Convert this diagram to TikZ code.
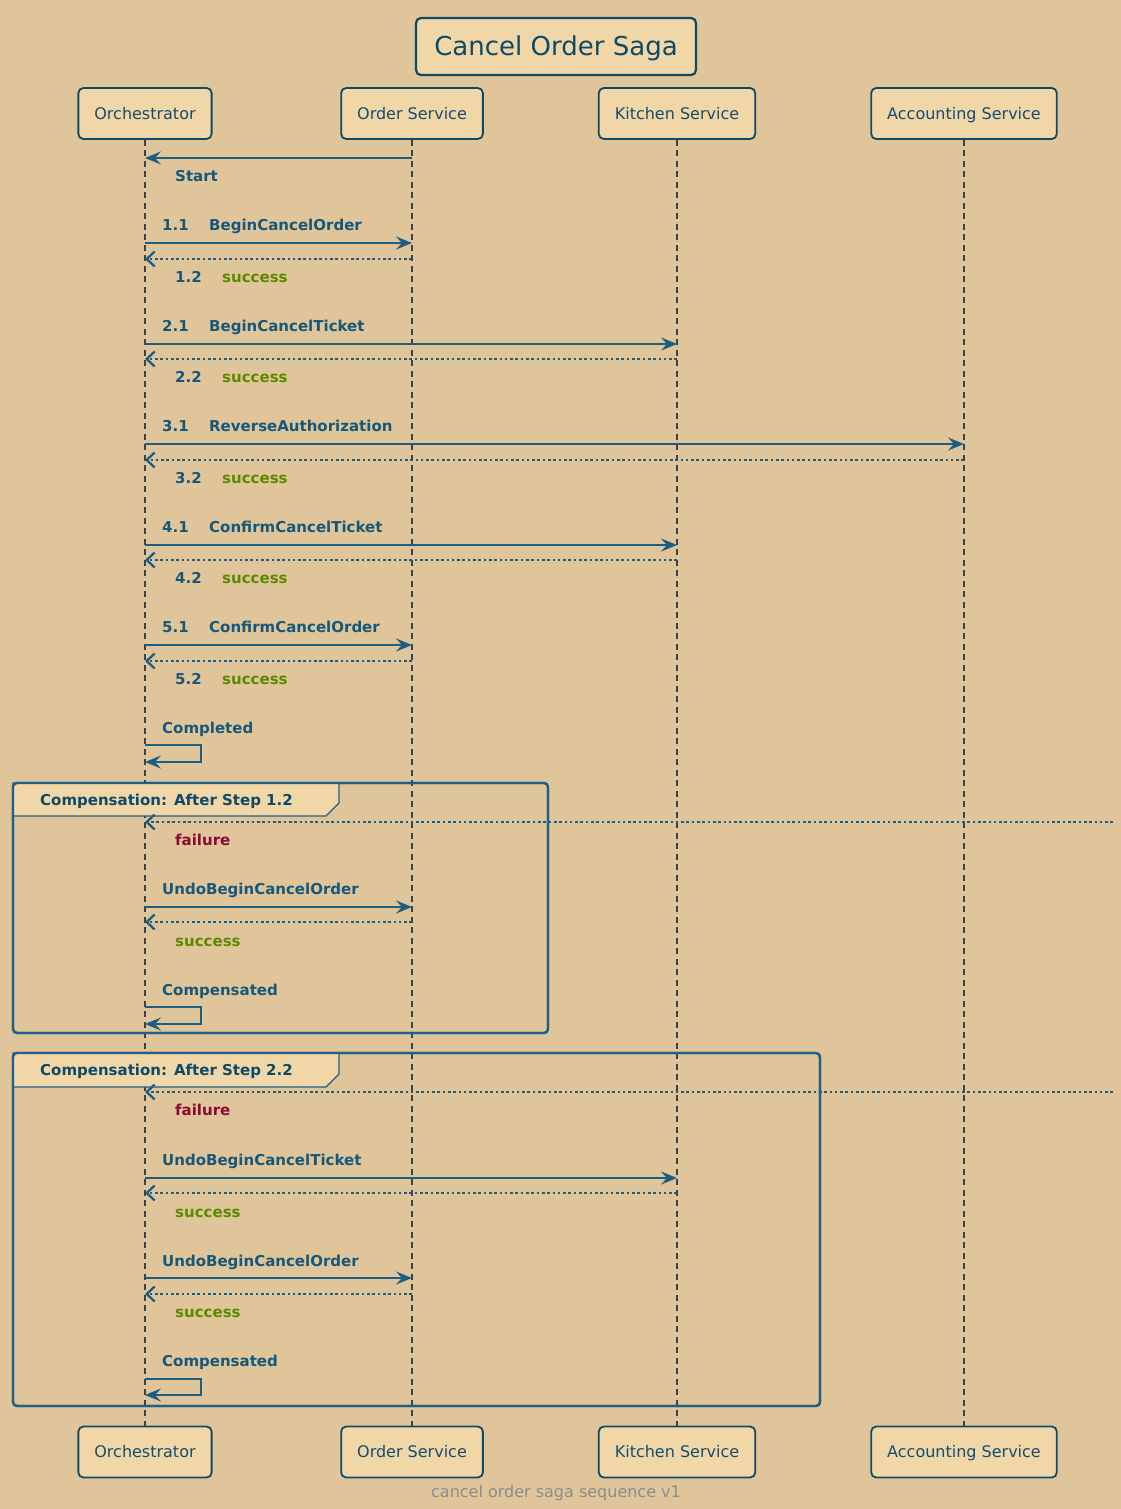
\documentclass[tikz,border=0pt]{standalone}
\usepackage{fontspec}
\setmainfont{DejaVu Sans}
\usetikzlibrary{arrows.meta}
\definecolor{bg}{HTML}{E0C59A}
\definecolor{boxfill}{HTML}{F1D6A8}
\definecolor{boxdraw}{HTML}{0D4A68}
\definecolor{ptxt}{HTML}{154E6E}
\definecolor{lbl}{HTML}{17587A}
\definecolor{arr}{HTML}{1B5E82}
\definecolor{life}{HTML}{38434D}
\definecolor{okgreen}{HTML}{5B8A00}
\definecolor{failred}{HTML}{8A0A36}
\definecolor{framec}{HTML}{1E6087}
\definecolor{foot}{HTML}{8C8C8C}
\tikzset{
  participant/.style={draw=boxdraw, fill=boxfill, rounded corners=5pt, line width=1.8pt,
    minimum height=51pt, inner xsep=16pt, text height=11.7pt, text depth=0pt,
    text=ptxt, font=\fontsize{16}{19}\selectfont},
  titlebox/.style={draw=boxdraw, fill=boxfill, rounded corners=5pt, line width=2.2pt,
    minimum height=57pt, minimum width=280pt, text height=19pt, text depth=0pt,
    text=boxdraw, font=\fontsize{26}{31}\selectfont},
  lifeline/.style={draw=life, line width=2.4pt, dash pattern=on 6pt off 4.5pt},
  call/.style={draw=arr, line width=2.3pt, -{Stealth[length=16pt,width=13pt,inset=6pt]}},
  reply/.style={draw=arr, line width=2.3pt, dash pattern=on 2.6pt off 2.7pt,
    -{Straight Barb[length=8pt,width=15pt]}},
  msglabel/.style={anchor=base west, inner sep=0pt, text=lbl, font=\fontsize{15}{18}\selectfont\bfseries},
  grouplabel/.style={anchor=base west, inner sep=0pt, text=boxdraw, font=\fontsize{15}{18}\selectfont\bfseries},
  frameline/.style={draw=framec, line width=2.3pt, rounded corners=4pt},
  tab/.style={draw=framec, line width=1.1pt, fill=boxfill},
}
\newcommand{\numlbl}[2]{\makebox[47pt][l]{#1}#2}
\newcommand{\okt}{\textcolor{okgreen}{success}}
\begin{document}
\begin{tikzpicture}[x=1pt,y=-1pt]
\fill[bg] (0,0) rectangle (1121,1509);
\useasboundingbox (0,0) rectangle (1121,1509);

% title
\node[titlebox] (title) at (556,46.5) {Cancel Order Saga};

% participants top
\node[participant] (oT) at (145,113.5) {Orchestrator};
\node[participant] (sT) at (412,113.5) {Order Service};
\node[participant] (kT) at (677,113.5) {Kitchen Service};
\node[participant] (aT) at (964,113.5) {Accounting Service};
% participants bottom
\node[participant] (oB) at (145,1452) {Orchestrator};
\node[participant] (sB) at (412,1452) {Order Service};
\node[participant] (kB) at (677,1452) {Kitchen Service};
\node[participant] (aB) at (964,1452) {Accounting Service};

% lifelines
\draw[lifeline] (oT.south) -- (oB.north);
\draw[lifeline] (sT.south) -- (sB.north);
\draw[lifeline] (kT.south) -- (kB.north);
\draw[lifeline] (aT.south) -- (aB.north);

% group frames
\draw[frameline] (13,783) rectangle (548,1033);
\draw[tab] (13,783) -- (339,783) -- (339,803) -- (326,816) -- (13,816) -- cycle;
\draw[frameline] (13,783) rectangle (548,1033);
\node[grouplabel] (g1) at (40,805) {Compensation: After Step 1.2};

\draw[frameline] (13,1053) rectangle (820,1406);
\draw[tab] (13,1053) -- (339,1053) -- (339,1074) -- (326,1087) -- (13,1087) -- cycle;
\draw[frameline] (13,1053) rectangle (820,1406);
\node[grouplabel] (g2) at (40,1075) {Compensation: After Step 2.2};

% messages
\draw[call] (sT.south |- 0,158) -- (oT.south |- 0,158);
\node[msglabel] (mStart) at (175,181) {Start};

\node[msglabel] (m11) at (162,230) {\numlbl{1.1}{BeginCancelOrder}};
\draw[call] (oT.south |- 0,243) -- (sT.south |- 0,243);
\draw[reply] (sT.south |- 0,259) -- (oT.south |- 0,259);
\node[msglabel] (m12) at (175,282) {\numlbl{1.2}{\okt}};

\node[msglabel] (m21) at (162,331) {\numlbl{2.1}{BeginCancelTicket}};
\draw[call] (oT.south |- 0,344) -- (kT.south |- 0,344);
\draw[reply] (kT.south |- 0,359) -- (oT.south |- 0,359);
\node[msglabel] (m22) at (175,382) {\numlbl{2.2}{\okt}};

\node[msglabel] (m31) at (162,431) {\numlbl{3.1}{ReverseAuthorization}};
\draw[call] (oT.south |- 0,444) -- (aT.south |- 0,444);
\draw[reply] (aT.south |- 0,460) -- (oT.south |- 0,460);
\node[msglabel] (m32) at (175,483) {\numlbl{3.2}{\okt}};

\node[msglabel] (m41) at (162,532) {\numlbl{4.1}{ConfirmCancelTicket}};
\draw[call] (oT.south |- 0,545) -- (kT.south |- 0,545);
\draw[reply] (kT.south |- 0,560) -- (oT.south |- 0,560);
\node[msglabel] (m42) at (175,583) {\numlbl{4.2}{\okt}};

\node[msglabel] (m51) at (162,632) {\numlbl{5.1}{ConfirmCancelOrder}};
\draw[call] (oT.south |- 0,645) -- (sT.south |- 0,645);
\draw[reply] (sT.south |- 0,661) -- (oT.south |- 0,661);
\node[msglabel] (m52) at (175,684) {\numlbl{5.2}{\okt}};

\node[msglabel] (mComp) at (162,733) {Completed};
\draw[call] (oT.south |- 0,745) -- ++(56,0) -- ++(0,17) -- (oT.south |- 0,762);

% group 1 messages
\coordinate (edge1) at (1113,822);
\draw[reply] (edge1) -- (oT.south |- edge1);
\node[msglabel, text=failred] (f1) at (175,845) {failure};
\node[msglabel] (u1) at (162,894) {UndoBeginCancelOrder};
\draw[call] (oT.south |- 0,907) -- (sT.south |- 0,907);
\draw[reply] (sT.south |- 0,922) -- (oT.south |- 0,922);
\node[msglabel] (s1) at (175,946) {\okt};
\node[msglabel] (c1) at (162,995) {Compensated};
\draw[call] (oT.south |- 0,1007) -- ++(56,0) -- ++(0,17) -- (oT.south |- 0,1024);

% group 2 messages
\coordinate (edge2) at (1113,1092);
\draw[reply] (edge2) -- (oT.south |- edge2);
\node[msglabel, text=failred] (f2) at (175,1115) {failure};
\node[msglabel] (u2) at (162,1165) {UndoBeginCancelTicket};
\draw[call] (oT.south |- 0,1178) -- (kT.south |- 0,1178);
\draw[reply] (kT.south |- 0,1193) -- (oT.south |- 0,1193);
\node[msglabel] (s2) at (175,1217) {\okt};
\node[msglabel] (u3) at (162,1266) {UndoBeginCancelOrder};
\draw[call] (oT.south |- 0,1278) -- (sT.south |- 0,1278);
\draw[reply] (sT.south |- 0,1294) -- (oT.south |- 0,1294);
\node[msglabel] (s3) at (175,1317) {\okt};
\node[msglabel] (c2) at (162,1366) {Compensated};
\draw[call] (oT.south |- 0,1379) -- ++(56,0) -- ++(0,16) -- (oT.south |- 0,1395);

% footer
\node[text=foot, font=\fontsize{16}{19}\selectfont, inner sep=0pt] (footer) at (556,1493) {cancel order saga sequence v1};
\end{tikzpicture}
\end{document}
